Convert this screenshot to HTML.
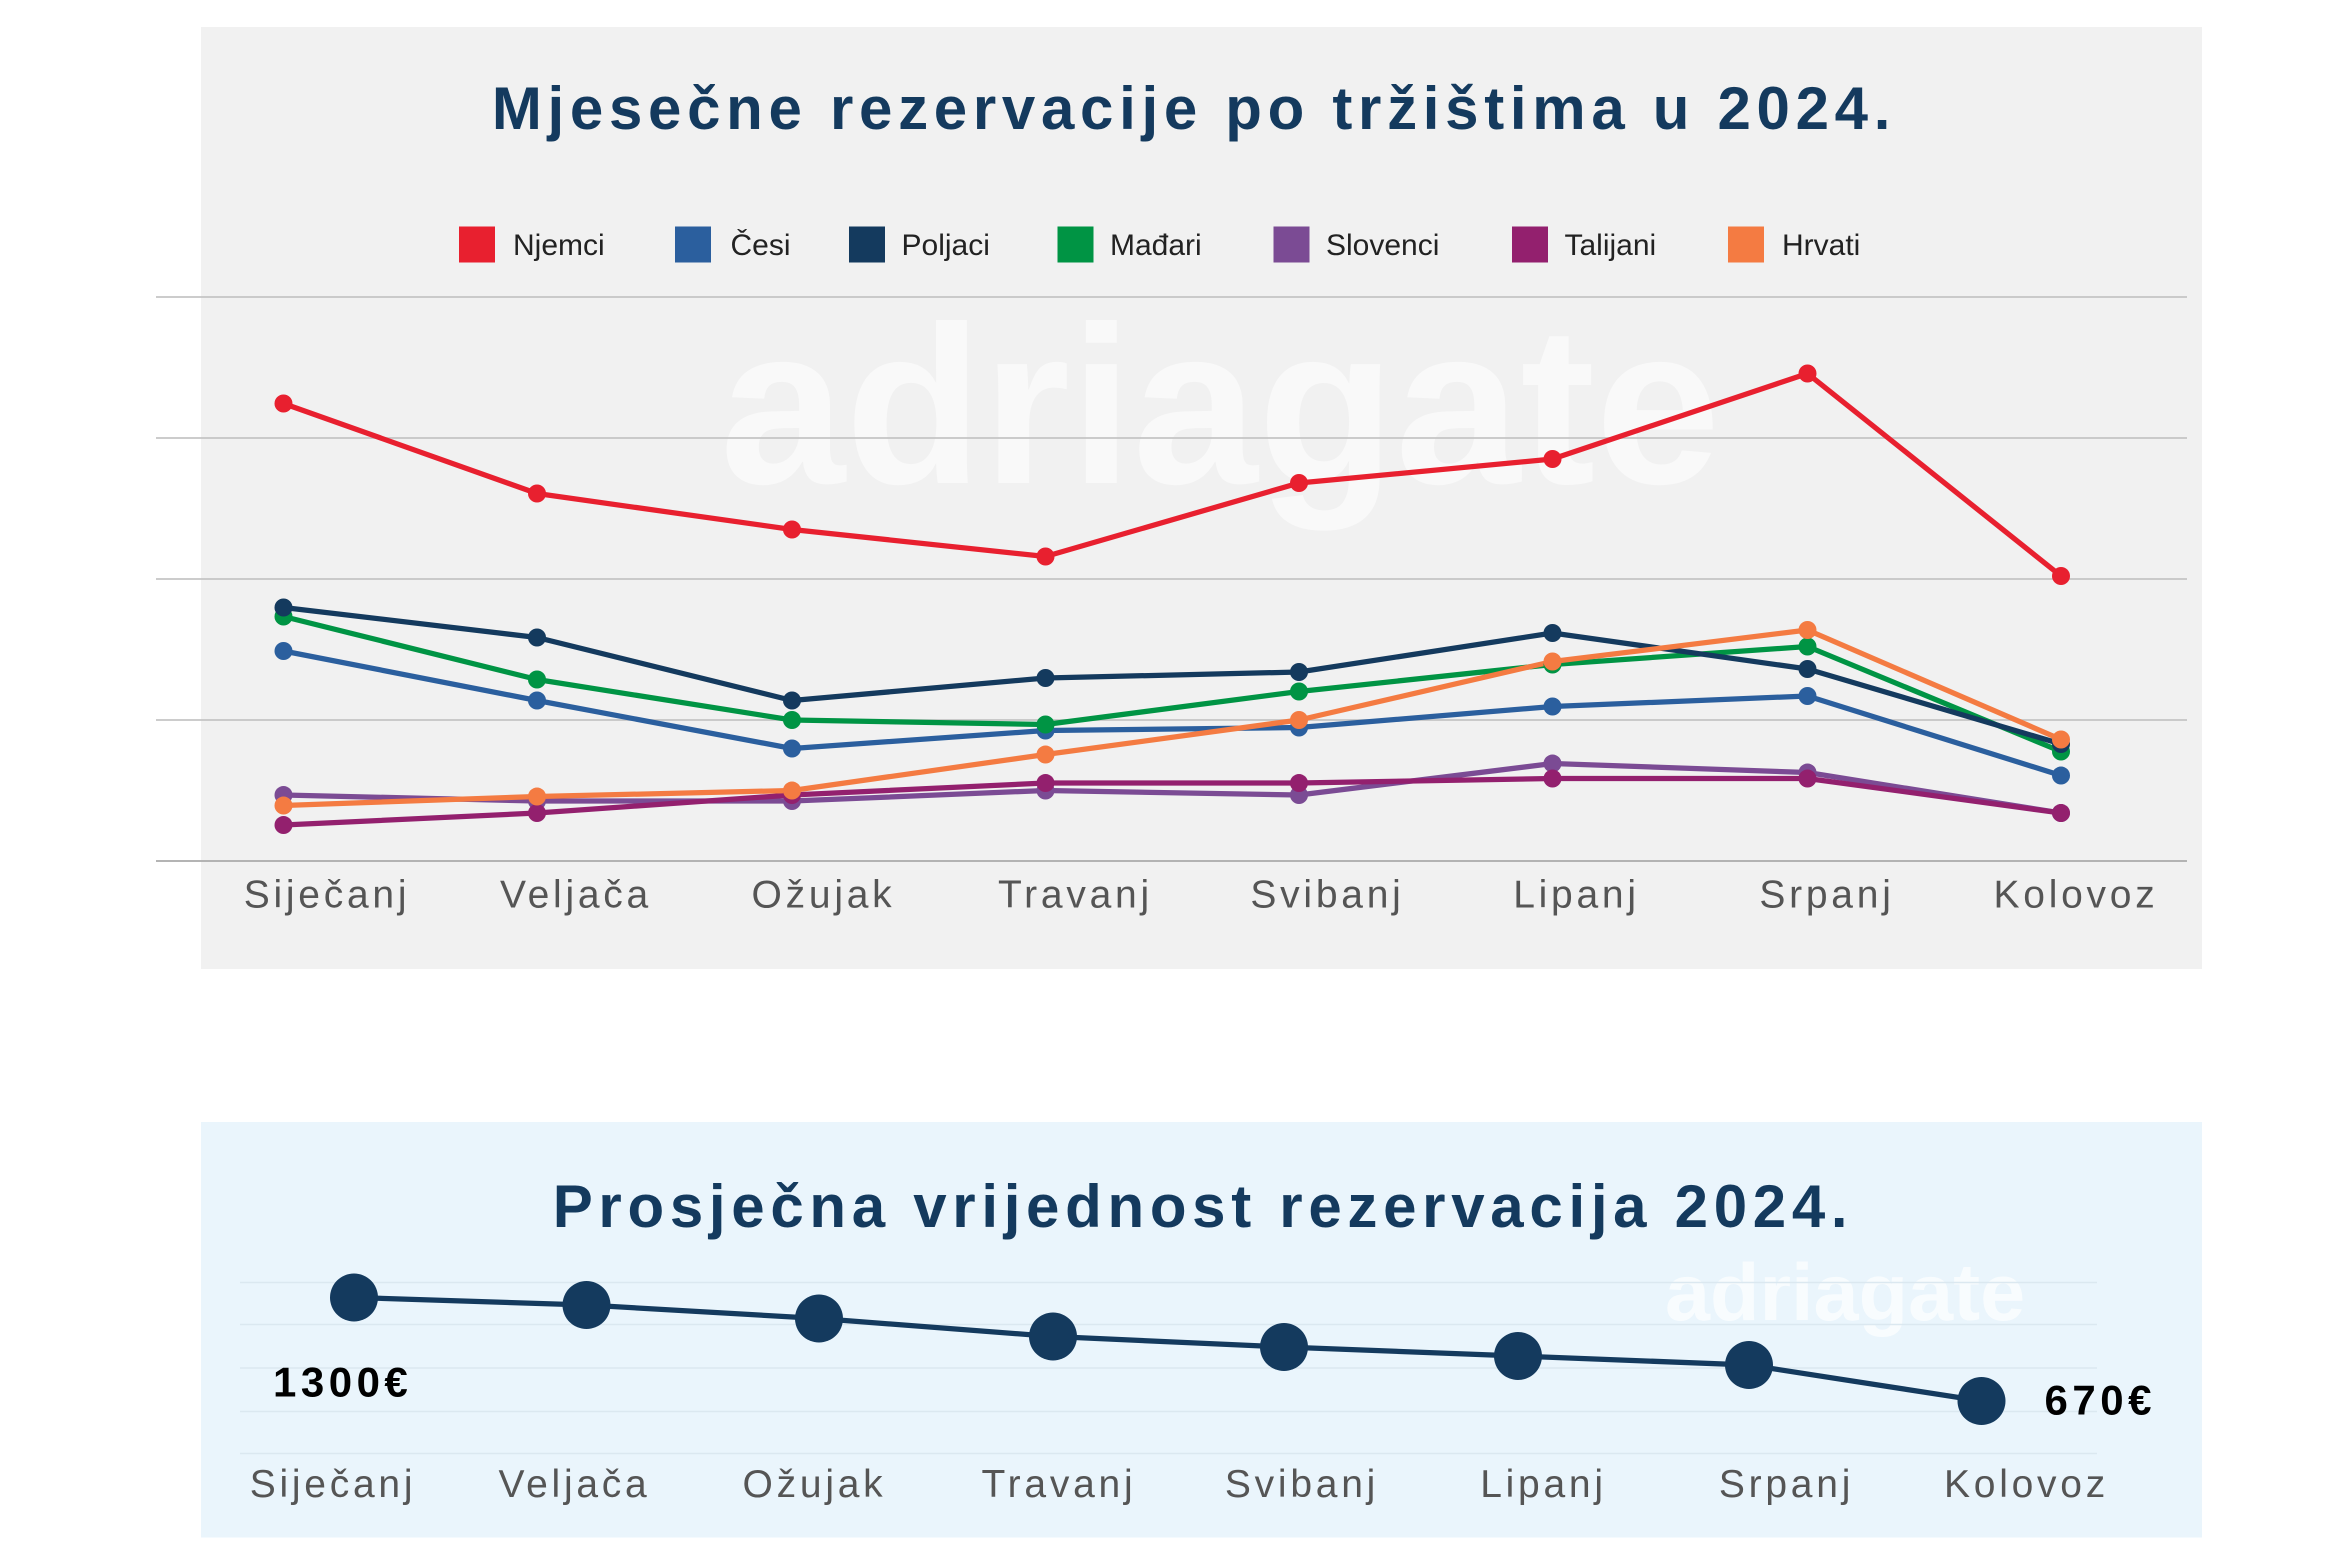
<!DOCTYPE html>
<html><head><meta charset="utf-8"><style>
html,body{margin:0;padding:0;background:#fff;}
svg{display:block;}
text{font-family:"Liberation Sans","DejaVu Sans",sans-serif;}
.t{letter-spacing:3.8px;}
.m{letter-spacing:2.5px;}
</style></head><body>
<svg width="2344" height="1562" viewBox="0 0 1562.67 1041.33" preserveAspectRatio="none" xmlns="http://www.w3.org/2000/svg">
<rect width="1562.67" height="1041.33" fill="#fff"/>
<rect x="134" y="18" width="1334" height="628" fill="#f1f1f1"/>
<text x="480" y="322" font-size="150" font-weight="bold" fill="#fff" opacity="0.6">adriagate</text>
<text class="t" x="796" y="86" text-anchor="middle" font-size="40" font-weight="bold" fill="#143a5e">Mjesečne rezervacije po tržištima u 2024.</text>
<g font-size="20" fill="#222">
<rect x="306" y="151" width="24" height="24" fill="#e8202f"/><text x="342" y="170">Njemci</text>
<rect x="450" y="151" width="24" height="24" fill="#2b5f9e"/><text x="487" y="170">Česi</text>
<rect x="566" y="151" width="24" height="24" fill="#143a5e"/><text x="601" y="170">Poljaci</text>
<rect x="705" y="151" width="24" height="24" fill="#009444"/><text x="740" y="170">Mađari</text>
<rect x="849" y="151" width="24" height="24" fill="#7b4b94"/><text x="884" y="170">Slovenci</text>
<rect x="1008" y="151" width="24" height="24" fill="#93206e"/><text x="1043" y="170">Talijani</text>
<rect x="1152" y="151" width="24" height="24" fill="#f47b42"/><text x="1188" y="170">Hrvati</text>
</g>
<g stroke="#c4c4c4" stroke-width="1.2">
<line x1="104" x2="1458" y1="198" y2="198"/><line x1="104" x2="1458" y1="292" y2="292"/>
<line x1="104" x2="1458" y1="386" y2="386"/><line x1="104" x2="1458" y1="480" y2="480"/>
<line x1="104" x2="1458" y1="574" y2="574" stroke="#aaa"/>
</g>
<g class="m" font-size="26" fill="#555" text-anchor="middle">
<text x="218" y="605">Siječanj</text><text x="384" y="605">Veljača</text><text x="549" y="605">Ožujak</text><text x="717" y="605">Travanj</text>
<text x="885" y="605">Svibanj</text><text x="1051" y="605">Lipanj</text><text x="1218" y="605">Srpanj</text><text x="1384" y="605">Kolovoz</text>
</g>
<g fill="none" stroke-width="3.5" stroke-linejoin="round">
<polyline stroke="#7b4b94" points="189,530 358,534 528,534 697,527 866,530 1035,509 1205,515 1374,542"/>
<polyline stroke="#93206e" points="189,550 358,542 528,530 697,522 866,522 1035,519 1205,519 1374,542"/>
<polyline stroke="#2b5f9e" points="189,434 358,467 528,499 697,487 866,485 1035,471 1205,464 1374,517"/>
<polyline stroke="#009444" points="189,411 358,453 528,480 697,483 866,461 1035,443 1205,431 1374,501"/>
<polyline stroke="#143a5e" points="189,405 358,425 528,467 697,452 866,448 1035,422 1205,446 1374,496"/>
<polyline stroke="#f47b42" points="189,537 358,531 528,527 697,503 866,480 1035,441 1205,420 1374,493"/>
<polyline stroke="#e8202f" points="189,269 358,329 528,353 697,371 866,322 1035,306 1205,249 1374,384"/>
</g>
<rect x="134" y="748" width="1334" height="277" fill="#eaf5fc"/>
<text x="1110" y="880" font-size="54" font-weight="bold" fill="#fff" opacity="0.7">adriagate</text>
<g stroke="#dbe8f0" stroke-width="1">
<line x1="160" x2="1398" y1="855" y2="855"/><line x1="160" x2="1398" y1="883" y2="883"/>
<line x1="160" x2="1398" y1="912" y2="912"/><line x1="160" x2="1398" y1="941" y2="941"/><line x1="160" x2="1398" y1="969" y2="969"/>
</g>
<text class="t" x="802" y="818" text-anchor="middle" font-size="40" font-weight="bold" fill="#143a5e">Prosječna vrijednost rezervacija 2024.</text>
<polyline fill="none" stroke="#143a5e" stroke-width="3.5" points="236,865 391,870 546,879 702,891 856,898 1012,904 1166,910 1321,934"/>
<g fill="#143a5e">
<circle cx="236" cy="865" r="16"/><circle cx="391" cy="870" r="16"/><circle cx="546" cy="879" r="16"/><circle cx="702" cy="891" r="16"/>
<circle cx="856" cy="898" r="16"/><circle cx="1012" cy="904" r="16"/><circle cx="1166" cy="910" r="16"/><circle cx="1321" cy="934" r="16"/>
</g>
<text x="182" y="931" font-size="28" font-weight="bold" fill="#000" letter-spacing="3">1300€</text>
<text x="1363" y="943" font-size="28" font-weight="bold" fill="#000" letter-spacing="3">670€</text>
<g class="m" font-size="26" fill="#555" text-anchor="middle">
<text x="222" y="998">Siječanj</text><text x="383" y="998">Veljača</text><text x="543" y="998">Ožujak</text><text x="706" y="998">Travanj</text>
<text x="868" y="998">Svibanj</text><text x="1029" y="998">Lipanj</text><text x="1191" y="998">Srpanj</text><text x="1351" y="998">Kolovoz</text>
</g>
<g>
<g fill="#7b4b94"><circle cx="189" cy="530" r="6"/><circle cx="358" cy="534" r="6"/><circle cx="528" cy="534" r="6"/><circle cx="697" cy="527" r="6"/><circle cx="866" cy="530" r="6"/><circle cx="1035" cy="509" r="6"/><circle cx="1205" cy="515" r="6"/><circle cx="1374" cy="542" r="6"/></g>
<g fill="#93206e"><circle cx="189" cy="550" r="6"/><circle cx="358" cy="542" r="6"/><circle cx="528" cy="530" r="6"/><circle cx="697" cy="522" r="6"/><circle cx="866" cy="522" r="6"/><circle cx="1035" cy="519" r="6"/><circle cx="1205" cy="519" r="6"/><circle cx="1374" cy="542" r="6"/></g>
<g fill="#2b5f9e"><circle cx="189" cy="434" r="6"/><circle cx="358" cy="467" r="6"/><circle cx="528" cy="499" r="6"/><circle cx="697" cy="487" r="6"/><circle cx="866" cy="485" r="6"/><circle cx="1035" cy="471" r="6"/><circle cx="1205" cy="464" r="6"/><circle cx="1374" cy="517" r="6"/></g>
<g fill="#009444"><circle cx="189" cy="411" r="6"/><circle cx="358" cy="453" r="6"/><circle cx="528" cy="480" r="6"/><circle cx="697" cy="483" r="6"/><circle cx="866" cy="461" r="6"/><circle cx="1035" cy="443" r="6"/><circle cx="1205" cy="431" r="6"/><circle cx="1374" cy="501" r="6"/></g>
<g fill="#143a5e"><circle cx="189" cy="405" r="6"/><circle cx="358" cy="425" r="6"/><circle cx="528" cy="467" r="6"/><circle cx="697" cy="452" r="6"/><circle cx="866" cy="448" r="6"/><circle cx="1035" cy="422" r="6"/><circle cx="1205" cy="446" r="6"/><circle cx="1374" cy="496" r="6"/></g>
<g fill="#f47b42"><circle cx="189" cy="537" r="6"/><circle cx="358" cy="531" r="6"/><circle cx="528" cy="527" r="6"/><circle cx="697" cy="503" r="6"/><circle cx="866" cy="480" r="6"/><circle cx="1035" cy="441" r="6"/><circle cx="1205" cy="420" r="6"/><circle cx="1374" cy="493" r="6"/></g>
<g fill="#e8202f"><circle cx="189" cy="269" r="6"/><circle cx="358" cy="329" r="6"/><circle cx="528" cy="353" r="6"/><circle cx="697" cy="371" r="6"/><circle cx="866" cy="322" r="6"/><circle cx="1035" cy="306" r="6"/><circle cx="1205" cy="249" r="6"/><circle cx="1374" cy="384" r="6"/></g>
</g>
</svg>
</body></html>
